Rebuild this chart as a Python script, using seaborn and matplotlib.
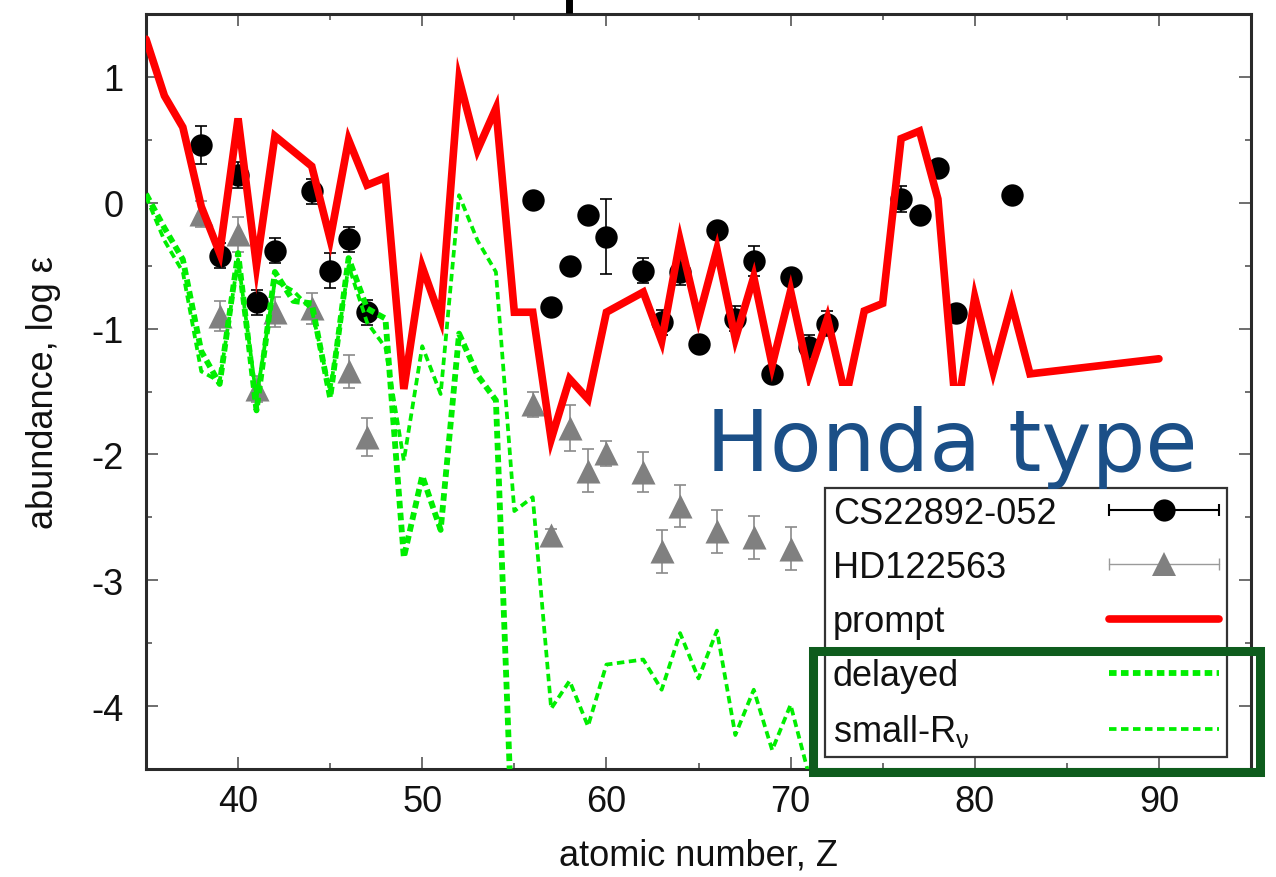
import matplotlib
matplotlib.use("Agg")
import matplotlib.pyplot as plt
import seaborn as sns
from matplotlib.lines import Line2D
from matplotlib.patches import Rectangle
from matplotlib.legend_handler import HandlerBase
from matplotlib.ticker import MultipleLocator, FormatStrFormatter

# ---- observed abundances (log epsilon) ----
cs_z = [38, 39, 40, 41, 42, 44, 45, 46, 47, 56, 57, 58, 59, 60, 62, 63, 64,
        65, 66, 67, 68, 69, 70, 71, 72, 76, 77, 78, 79, 82]
cs_logeps = [0.46, -0.42, 0.22, -0.79, -0.38, 0.09, -0.54, -0.29, -0.87,
             0.02, -0.83, -0.50, -0.10, -0.27, -0.54, -0.95, -0.55, -1.12,
             -0.22, -0.92, -0.46, -1.36, -0.59, -1.15, -0.96, 0.03, -0.10,
             0.28, -0.88, 0.06]
cs_err = [0.15, 0.10, 0.10, 0.10, 0.10, 0.10, 0.14, 0.10, 0.10, 0.05, 0.05,
          0.05, 0.05, 0.30, 0.10, 0.10, 0.10, 0.05, 0.05, 0.10, 0.12, 0.05,
          0.05, 0.10, 0.10, 0.10, 0.05, 0.05, 0.05, 0.05]

hd_z = [38, 39, 40, 41, 42, 44, 46, 47, 56, 57, 58, 59, 60, 62, 63, 64, 66,
        68, 70]
hd_logeps = [-0.09, -0.90, -0.25, -1.48, -0.87, -0.84, -1.34, -1.86, -1.60,
             -2.64, -1.79, -2.13, -1.99, -2.14, -2.77, -2.41, -2.61, -2.66,
             -2.75]
hd_err = [0.10, 0.12, 0.14, 0.10, 0.12, 0.12, 0.13, 0.15, 0.10, 0.05, 0.18,
          0.17, 0.10, 0.16, 0.17, 0.17, 0.17, 0.17, 0.17]

# ---- nucleosynthesis models ----
prompt_z = list(range(35, 84)) + [90]
prompt_logeps = [1.30, 0.85, 0.60, -0.03, -0.40, 0.67, -0.50, 0.53, 0.41,
                 0.29, -0.29, 0.50, 0.14, 0.20, -1.48, -0.51, -0.92, 0.98,
                 0.42, 0.75, -0.87, -0.87, -1.88, -1.40, -1.56, -0.87, -0.79,
                 -0.71, -1.10, -0.30, -0.92, -0.37, -1.08, -0.59, -1.29,
                 -0.70, -1.37, -0.92, -1.55, -0.86, -0.80, 0.51, 0.57, 0.03,
                 -1.70, -0.75, -1.34, -0.80, -1.36, -1.24]

delayed_z = list(range(35, 56))
delayed_logeps = [0.07, -0.20, -0.45, -1.18, -1.44, -0.40, -1.65, -0.55,
                  -0.78, -0.80, -1.55, -0.44, -0.84, -0.92, -2.82, -2.17,
                  -2.60, -1.04, -1.37, -1.57, -5.50]

smallrv_z = list(range(35, 73))
smallrv_logeps = [0.05, -0.30, -0.55, -1.34, -1.42, -0.45, -1.55, -0.62,
                  -0.70, -0.85, -1.50, -0.50, -0.95, -1.15, -2.05, -1.14,
                  -1.52, 0.06, -0.30, -0.55, -2.45, -2.34, -4.02, -3.80,
                  -4.16, -3.67, -3.65, -3.63, -3.87, -3.42, -3.78, -3.40,
                  -4.23, -3.87, -4.35, -3.99, -4.55, -4.70]

legend_labels = ["CS22892-052", "HD122563", "prompt", "delayed",
                 r"small-R$_{\mathrm{\nu}}$"]

sns.set_theme(style="ticks")
plt.rcParams["font.family"] = ["Liberation Sans", "DejaVu Sans"]
plt.rcParams["axes.unicode_minus"] = False
plt.rcParams["mathtext.fontset"] = "custom"
plt.rcParams["mathtext.rm"] = "Liberation Sans"
plt.rcParams["mathtext.it"] = "Liberation Sans:italic"

W, H = 1276, 878
fig = plt.figure(figsize=(W / 100, H / 100), dpi=100)
ax = fig.add_axes([146 / W, 1 - 770 / H, 1105 / W, 755 / H])
ax.set_facecolor("white")

# observed stars: error bars then markers
cs_bars = ax.errorbar(cs_z, cs_logeps, yerr=cs_err, fmt="none",
                      ecolor="black", elinewidth=1.2, capsize=4,
                      capthick=1.2, zorder=2)
sns.scatterplot(x=cs_z, y=cs_logeps, ax=ax, marker="o", s=260,
                color="black", edgecolor="black", linewidth=0, zorder=3,
                legend=False)
hd_bars = ax.errorbar(hd_z, hd_logeps, yerr=hd_err, fmt="none",
                      ecolor="#8a8a8a", elinewidth=1.2, capsize=4,
                      capthick=1.2, zorder=2)
sns.scatterplot(x=hd_z, y=hd_logeps, ax=ax, marker="^", s=300,
                color="#808080", edgecolor="#808080", linewidth=0, zorder=3,
                legend=False)

# model curves
sns.lineplot(x=prompt_z, y=prompt_logeps, ax=ax, color="#ff0000",
             linewidth=5.5, sort=False, estimator=None, legend=False,
             zorder=4)
prompt_line = ax.lines[-1]
prompt_line.set_solid_joinstyle("miter")

sns.lineplot(x=delayed_z, y=delayed_logeps, ax=ax, color="#00ee00",
             linewidth=4.2, sort=False, estimator=None, legend=False,
             zorder=5)
delayed_line = ax.lines[-1]
delayed_line.set_linestyle((0, (1.3, 0.75)))

sns.lineplot(x=smallrv_z, y=smallrv_logeps, ax=ax, color="#00ee00",
             linewidth=2.7, sort=False, estimator=None, legend=False,
             zorder=5)
smallrv_line = ax.lines[-1]
smallrv_line.set_linestyle((0, (2.0, 1.2)))

# axes styling
ax.set_xlim(35, 95)
ax.set_ylim(-4.5, 1.5)
ax.xaxis.set_major_locator(MultipleLocator(10))
ax.xaxis.set_minor_locator(MultipleLocator(5))
ax.yaxis.set_major_locator(MultipleLocator(1))
ax.yaxis.set_minor_locator(MultipleLocator(0.5))
ax.yaxis.set_major_formatter(FormatStrFormatter("%d"))
ax.tick_params(which="both", direction="in", top=True, right=True,
               color="#555555", width=1.2, labelsize=26, labelcolor="#111111")
ax.tick_params(which="major", length=8.5)
ax.tick_params(which="minor", length=4.5)
ax.tick_params(axis="y", pad=16)
ax.tick_params(axis="x", pad=11)
for sp in ax.spines.values():
    sp.set_linewidth(2.2)
    sp.set_color("#2a2a2a")
ax.set_xlabel("atomic number, Z", fontsize=26, color="#111111", labelpad=13)
ax.set_ylabel("abundance, log ε", fontsize=26, color="#111111", labelpad=22)


class CapLineHandler(HandlerBase):
    """Horizontal error-bar sample with end caps and a central marker."""

    def __init__(self, color, lw, marker, msize, mcolor):
        super().__init__()
        self.color, self.lw = color, lw
        self.marker, self.msize, self.mcolor = marker, msize, mcolor

    def create_artists(self, legend, orig_handle, xdescent, ydescent,
                       width, height, fontsize, trans):
        y = height / 2 - ydescent
        x0, x1 = -xdescent, width - xdescent
        bar = Line2D([x0, x1], [y, y], color=self.color, lw=self.lw)
        caps = Line2D([x0, x1], [y, y], ls="none", marker="|", ms=8,
                      mew=self.lw, color=self.color)
        pt = Line2D([(x0 + x1) / 2], [y], ls="none", marker=self.marker,
                    ms=self.msize, color=self.mcolor, mec=self.mcolor, mew=0)
        for a in (bar, caps, pt):
            a.set_transform(trans)
        return [bar, caps, pt]


handles = [cs_bars, hd_bars, prompt_line, delayed_line, smallrv_line]
handler_map = {
    cs_bars: CapLineHandler("black", 1.5, "o", 16, "black"),
    hd_bars: CapLineHandler("#9a9a9a", 1.0, "^", 17, "#808080"),
}
leg = ax.legend(handles, legend_labels, handler_map=handler_map,
                loc="upper left", bbox_to_anchor=(825 / W, 1 - 489 / H),
                bbox_transform=fig.transFigure, borderaxespad=0,
                markerfirst=False, fontsize=26, handlelength=3.05,
                handletextpad=1.45, labelspacing=0.53, borderpad=0.22,
                fancybox=False, framealpha=1, edgecolor="#333333",
                facecolor="white")
leg.get_frame().set_linewidth(1.6)
leg.set_zorder(6)
for t in leg.get_texts():
    t.set_color("#111111")

# left-align the labels while keeping samples in a right-hand column
fig.canvas.draw()
renderer = fig.canvas.get_renderer()
rows = leg._legend_handle_box.get_children()[0].get_children()
text_w = [r.get_children()[0].get_bbox(renderer).width for r in rows]
widest = max(text_w)
for r, w in zip(rows, text_w):
    r.sep = r.sep + (widest - w) * 72.0 / fig.dpi

# annotation panel
fig.add_artist(Rectangle((700 / W, 1 - 487 / H), 465 / W, 100 / H,
                         transform=fig.transFigure, facecolor="white",
                         edgecolor="none", zorder=3))
fig.text(706 / W, 1 - 471 / H, "Honda type", fontsize=61, color="#1b4f87",
         family=["DejaVu Sans"], ha="left", va="baseline", zorder=4)
fig.add_artist(Rectangle((813 / W, 1 - 773 / H), 447 / W, 121 / H,
                         transform=fig.transFigure, fill=False,
                         edgecolor="#0e5c1d", linewidth=6.5, zorder=7))
# stem of a heading glyph that runs off the top edge
fig.add_artist(Line2D([568.5 / W, 568.5 / W], [1.0, 1 - 14 / H],
                      transform=fig.transFigure, color="black", lw=5,
                      solid_capstyle="butt"))

fig.savefig("out.png", dpi=100, facecolor="white")
